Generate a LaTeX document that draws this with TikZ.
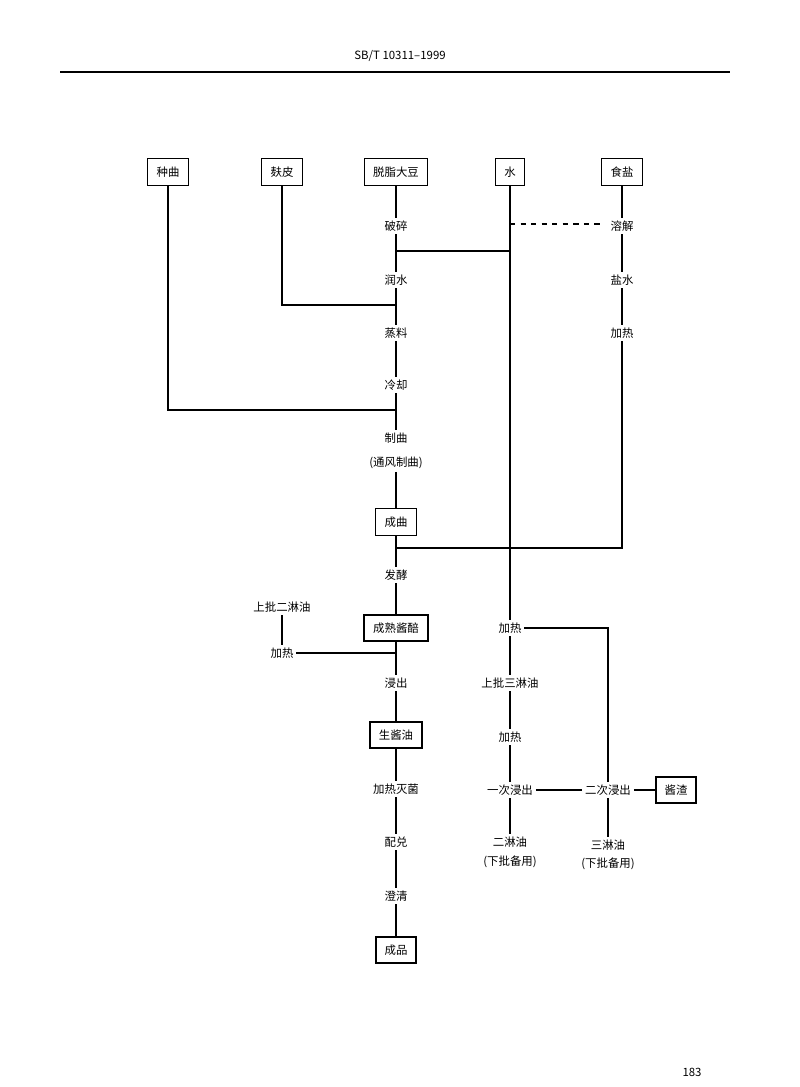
\documentclass[tikz,border=0pt]{standalone}
\usepackage{fontspec}
\setmainfont{Noto Sans CJK SC}
\begin{document}
\begin{tikzpicture}[x=0.02cm,y=-0.02cm,
    every node/.style={font=\fontsize{6.5}{7}\selectfont, inner sep=1.5pt},
    rawbox/.style={draw, thin, minimum height=15pt, inner xsep=5pt},
    prodbox/.style={draw, very thick, minimum height=15pt, inner xsep=5pt},
    flow/.style={thick}]

    % Page frame
    \useasboundingbox (0,0) rectangle (800,1087);
    \node (hdr) at (400,56) {SB/T 10311--1999};
    \draw[thick] (60,72) -- (730,72);
    \node (pg) at (692,1072) {183};

    %%%% Raw materials
    \node[rawbox] (zq) at (168,172) {种曲};
    \node[rawbox] (fp) at (282,172) {麸皮};
    \node[rawbox] (dd) at (396,172) {脱脂大豆};
    \node[rawbox] (sh) at (510,172) {水};
    \node[rawbox] (ys) at (622,172) {食盐};

    %%%% Main column
    \node (ps) at (396,226) {破碎};
    \node (rs) at (396,280) {润水};
    \node (zl) at (396,333) {蒸料};
    \node (lq) at (396,385) {冷却};
    \node (zhq) at (396,438) {制曲};
    \node (tf) at (396,463) {(通风制曲)};
    \node[rawbox] (cq) at (396,522) {成曲};
    \node (fj) at (396,575) {发酵};
    \node[prodbox] (jp) at (396,628) {成熟酱醅};
    \node (jc) at (396,683) {浸出};
    \node[prodbox] (sjy) at (396,735) {生酱油};
    \node (jr) at (396,789) {加热灭菌};
    \node (pd) at (396,842) {配兑};
    \node (cqg) at (396,896) {澄清};
    \node[prodbox] (cp) at (396,950) {成品};

    %%%% Salt column
    \node (rj) at (622,226) {溶解};
    \node (ysh) at (622,280) {盐水};
    \node (jrs) at (622,333) {加热};

    %%%% Left branch
    \node (ep) at (282,607) {上批二淋油};
    \node (jre) at (282,653) {加热};

    %%%% Water / leaching columns
    \node (jrw) at (510,628) {加热};
    \node (sp) at (510,683) {上批三淋油};
    \node (jrt) at (510,737) {加热};
    \node (yc) at (510,790) {一次浸出};
    \node (el) at (510,842) {二淋油};
    \node (xb1) at (510,862) {(下批备用)};
    \node (ec) at (608,790) {二次浸出};
    \node (sl) at (608,845) {三淋油};
    \node (xb2) at (608,864) {(下批备用)};
    \node[prodbox] (jz) at (676,790) {酱渣};

    % Junction points
    \coordinate (wj) at (510,251);
    \coordinate (zj) at (168,410);
    \coordinate (fj1) at (282,305);
    \coordinate (dj) at (510,224);

    % Main chain
    \foreach \a/\b in {dd/ps, ps/rs, rs/zl, zl/lq, lq/zhq, tf/cq, cq/fj, fj/jp, jp/jc,
                       jc/sjy, sjy/jr, jr/pd, pd/cqg, cqg/cp, ys/rj, rj/ysh, ysh/jrs,
                       ep/jre, jrw/sp, sp/jrt, jrt/yc, yc/el, ec/sl}
        \draw[flow] (\a) -- (\b);

    % Side feeds
    \draw[flow] (zq.south) -- (zj) -- (396,410);
    \draw[flow] (fp.south) -- (fj1) -- (396,305);
    \draw[flow] (sh.south) -- (jrw.north);
    \draw[flow] (wj) -- (396,251);
    \draw[flow] (jrs.south) -- (622,548) -- (396,548);
    \draw[flow, dashed] (dj) -- ([xshift=-3pt]rj.west |- dj);
    \draw[flow] (jre.east) -- (396,653);
    \draw[flow] (jrw.east) -| (ec.north);
    \draw[flow] (yc.east) -- (ec.west);
    \draw[flow] (ec.east) -- (jz.west);

\end{tikzpicture}
\end{document}
